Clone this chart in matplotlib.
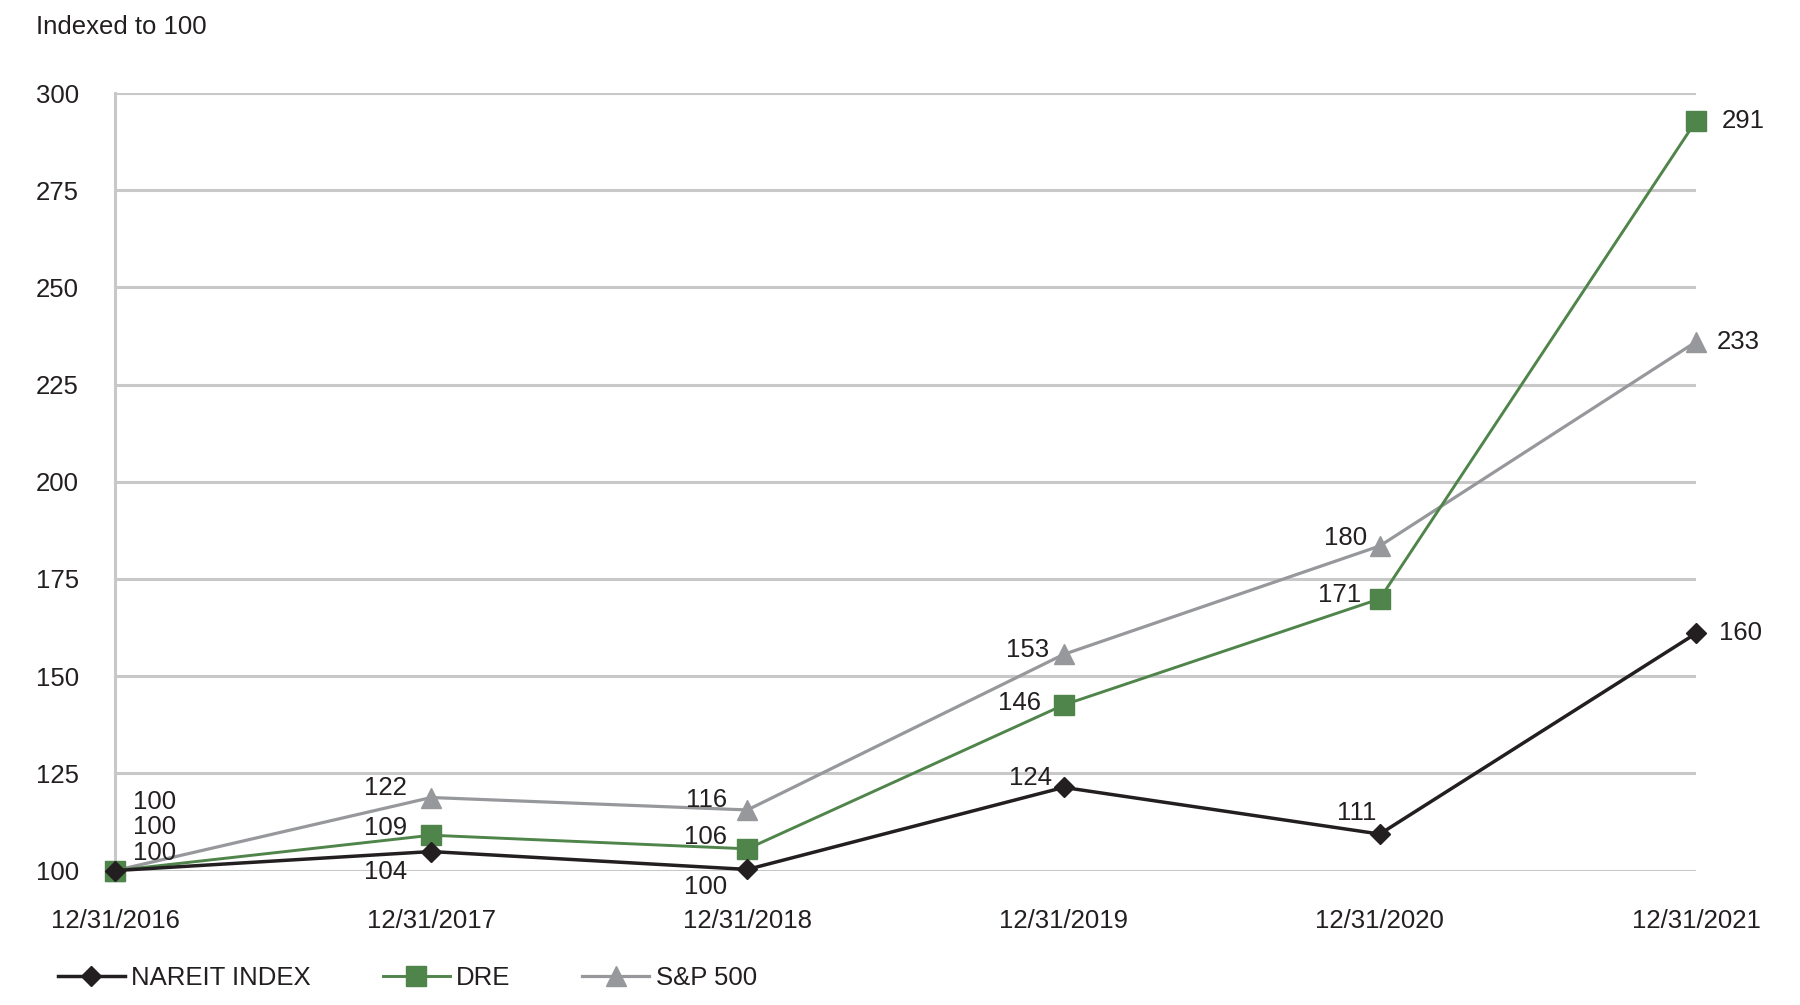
import matplotlib
matplotlib.use("Agg")
import matplotlib.pyplot as plt

plt.rcParams['font.family'] = ['Liberation Sans', 'DejaVu Sans']

# Dates on the x axis
dates = ['12/31/2016', '12/31/2017', '12/31/2018', '12/31/2019', '12/31/2020', '12/31/2021']

# Where the markers sit on the chart
nareit = [100, 104.9, 100.3, 121.4, 109.4, 161.0]
dre = [100, 109.1, 105.6, 142.6, 169.9, 292.8]
sp500 = [100, 118.8, 115.6, 155.6, 183.5, 236.0]

# Printed data labels
nareit_labels = [100, 104, 100, 124, 111, 160]
dre_labels = [100, 109, 106, 146, 171, 291]
sp500_labels = [100, 122, 116, 153, 180, 233]

y_ticks = [100, 125, 150, 175, 200, 225, 250, 275, 300]

black = '#231f20'
green = '#4f844a'
gray = '#97989c'
grid_gray = '#c8c8c8'
fs = 18.5

fig = plt.figure(figsize=(18, 10.05), dpi=100)
ax = fig.add_axes([115 / 1800, 1 - 870.6 / 1005, (1696 - 115) / 1800, (870.6 - 93) / 1005])

x = list(range(len(dates)))
ax.plot(x, sp500, color=gray, lw=2.3, marker='^', ms=14, label='S&P 500', clip_on=False, zorder=3)
ax.plot(x, dre, color=green, lw=2.1, marker='s', ms=14, label='DRE', clip_on=False, zorder=4)
ax.plot(x, nareit, color=black, lw=2.5, marker='D', ms=10, label='NAREIT INDEX', clip_on=False, zorder=5)

ax.set_xlim(0, 5)
ax.set_ylim(100, 300)
ax.set_yticks(y_ticks)
ax.set_xticks(x)
ax.set_xticklabels(dates)
ax.tick_params(axis='both', length=0, labelsize=fs, colors=black)
ax.tick_params(axis='y', pad=26)
ax.tick_params(axis='x', pad=28)

ax.grid(axis='y', color=grid_gray, lw=2.2)
ax.set_axisbelow(True)
for side in ['top', 'right', 'bottom']:
    ax.spines[side].set_visible(False)
ax.spines['left'].set_color(grid_gray)
ax.spines['left'].set_linewidth(2.2)

# label offsets (dx, dy in pixels of the 1568-wide view, horizontal alignment)
s = 1.148
sp_off = [(16, 60, 'left'), (-21, 8, 'right'), (-18, 9, 'right'), (-13, 4, 'right'), (-11, 7, 'right'), (18, 0, 'left')]
dre_off = [(16, 38, 'left'), (-21, 6, 'right'), (-18, 10, 'right'), (-20, 2, 'right'), (-16, 3, 'right'), (22, 0, 'left')]
na_off = [(16, 15, 'left'), (-21, -18, 'right'), (-18, -15, 'right'), (-10, 8, 'right'), (-3, 18, 'right'), (20, 0, 'left')]

for vals, labels, offs in [(sp500, sp500_labels, sp_off), (dre, dre_labels, dre_off), (nareit, nareit_labels, na_off)]:
    for i, (v, lab) in enumerate(zip(vals, labels)):
        dx, dy, ha = offs[i]
        ax.annotate(str(lab), (i, v), xytext=(dx * s, dy * s), textcoords='offset pixels',
                    ha=ha, va='center', fontsize=fs, color=black, zorder=6, annotation_clip=False)

fig.text(36 / 1800, 1 - 27 / 1005, 'Indexed to 100', ha='left', va='center', fontsize=fs, color=black)

handles, labels = ax.get_legend_handles_labels()
order = [2, 1, 0]
fig.legend([handles[i] for i in order], [labels[i] for i in order], loc='center left',
           bbox_to_anchor=(58 / 1800, 1 - 978 / 1005), ncol=3, frameon=False, fontsize=fs,
           handlelength=2.6, handletextpad=0.25, columnspacing=2.8, borderpad=0, borderaxespad=0,
           labelcolor=black)

fig.savefig('out.png', dpi=100)
